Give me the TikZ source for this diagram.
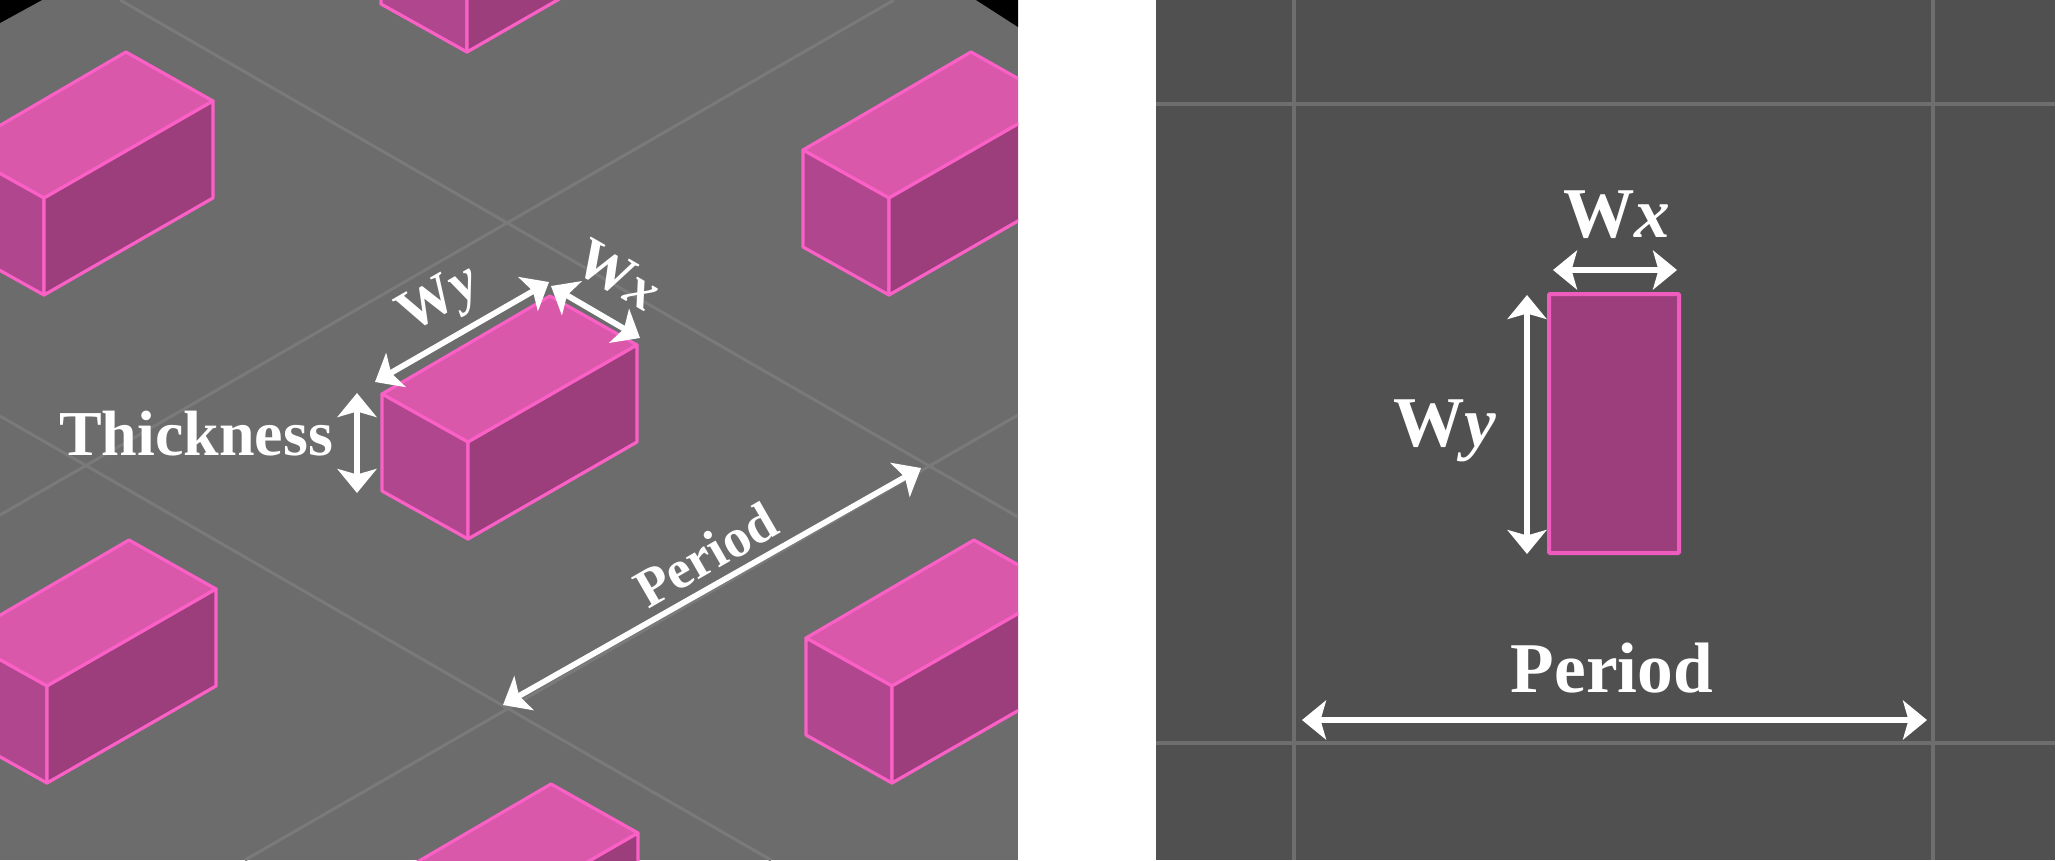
\documentclass[tikz,border=0pt]{standalone}
\usepackage{fontspec}
\setmainfont{Liberation Serif}
\usetikzlibrary{arrows.meta}
\definecolor{panelL}{HTML}{6C6C6C}
\definecolor{panelR}{HTML}{505050}
\definecolor{gridL}{HTML}{7A7A7A}
\definecolor{gridR}{HTML}{6E6E6E}
\definecolor{edge}{HTML}{FA60C6}
\definecolor{faceT}{HTML}{D958A9}
\definecolor{faceL}{HTML}{B0478E}
\definecolor{faceR}{HTML}{9C3E7C}
\tikzset{
    dim/.style={white,line width=0.058cm,{Stealth[length=0.24cm,width=0.39cm,inset=0.055cm]}-{Stealth[length=0.24cm,width=0.39cm,inset=0.055cm]}},
    face/.style={draw=edge,line width=0.032cm,line join=round},
    biglabel/.style={text=white,inner sep=0,anchor=base,font=\fontsize{20.3}{24}\bfseries\selectfont},
    smalllabel/.style={text=white,inner sep=0,font=\fontsize{16.5}{20}\bfseries\selectfont}
}
\newcommand{\pillar}[2]{
    \fill[faceT,face] (#1,#2) -- ++(168,-98) -- ++(87,49) -- ++(-169,97) -- cycle;
    \fill[faceL,face] (#1,#2) -- ++(86,48) -- ++(0,97) -- ++(-86,-48) -- cycle;
    \fill[faceR,face] (#1+86,#2+48) -- ++(169,-97) -- ++(0,97) -- ++(-169,97) -- cycle;
}
\begin{document}
\begin{tikzpicture}[x=0.01cm,y=-0.01cm]
        \useasboundingbox (0,0) rectangle (2067,860);
        \fill[white] (0,0) rectangle (2067,860);
        \begin{scope}
            \clip (0,0) rectangle (1018,860);
            \fill[panelL] (0,0) rectangle (1018,860);
            \fill[black] (0,0) -- (42,0) -- (0,23) -- cycle;
            \fill[black] (1018,0) -- (976,0) -- (1018,27) -- cycle;
            \draw[gridL,line width=0.03cm] (120,0) -- (1018,517);
            \draw[gridL,line width=0.03cm] (0,416) -- (771,860);
            \draw[gridL,line width=0.03cm] (894,0) -- (0,515);
            \draw[gridL,line width=0.03cm] (1018,415) -- (245,860);
            \foreach \px/\py in {382/394,-42/150,803/150,-39/638,806/638,381/-93,383/882}{
                \pillar{\px}{\py}
            }
        \end{scope}
        \coordinate (wyA) at (375,382);
        \coordinate (wyB) at (549,282);
        \coordinate (wxA) at (551,286);
        \coordinate (wxB) at (640,338);
        \coordinate (thA) at (357,393);
        \coordinate (thB) at (357,493);
        \coordinate (peA) at (503,705);
        \coordinate (peB) at (921,468);
        \draw[dim] (wyA) -- (wyB);
        \draw[dim] (wxA) -- (wxB);
        \draw[dim] (thA) -- (thB);
        \draw[dim] (peA) -- (peB);
        \node[smalllabel] (wyleft) at (440,301) [rotate=30] {W\textit{y}};
        \node[smalllabel] (wxleft) at (618,275) [rotate=-30] {W\textit{x}};
        \node[smalllabel,anchor=base,font=\fontsize{15.5}{18}\bfseries\selectfont] (periodleft) at (715,571) [rotate=30] {Period};
        \node[biglabel,font=\fontsize{18.2}{22}\bfseries\selectfont] (thick) at (196,455) {Thickness};
        \fill[panelR] (1156,0) rectangle (2055,860);
        \draw[gridR,line width=0.035cm] (1294,0) -- (1294,860);
        \draw[gridR,line width=0.035cm] (1933,0) -- (1933,860);
        \draw[gridR,line width=0.035cm] (1156,104) -- (2055,104);
        \draw[gridR,line width=0.035cm] (1156,743) -- (2055,743);
        \draw[fill=faceR,draw=edge!88!faceR,line width=0.04cm,rounded corners=0.01cm] (1549,294) rectangle (1679,553);
        \coordinate (wxtopA) at (1553,270);
        \coordinate (wxtopB) at (1677,270);
        \coordinate (wytopA) at (1527,295);
        \coordinate (wytopB) at (1527,554);
        \coordinate (petopA) at (1302,720);
        \coordinate (petopB) at (1927,720);
        \draw[dim] (wxtopA) -- (wxtopB);
        \draw[dim] (wytopA) -- (wytopB);
        \draw[dim] (petopA) -- (petopB);
        \node[biglabel] (wxright) at (1617,237) {W\textit{x}};
        \node[biglabel] (wyright) at (1445,446) {W\textit{y}};
        \node[biglabel] (periodright) at (1612,692) {Period};
    \end{tikzpicture}
\end{document}
